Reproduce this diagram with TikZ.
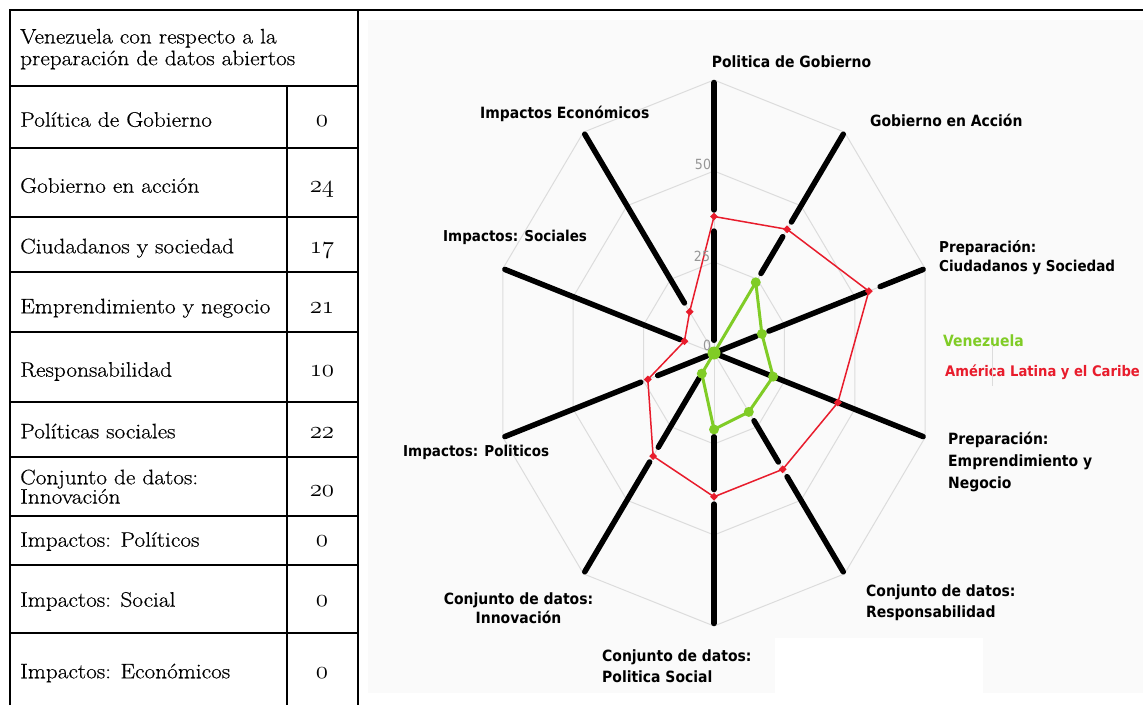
\documentclass[tikz,border=0pt]{standalone}
\usepackage{fontspec}
\newfontfamily\chartfont{DejaVu Sans Condensed}
\newfontfamily\tablefont{Latin Modern Roman}[FakeStretch=1.11, FakeBold=0.5]
\usetikzlibrary{shapes.geometric}
\definecolor{vzgreen}{RGB}{128,204,38}
\definecolor{lacred}{RGB}{232,28,44}
\definecolor{gridgray}{RGB}{220,220,220}
\definecolor{panelbg}{RGB}{250,250,250}
\definecolor{ticktxt}{RGB}{150,150,150}
\newcommand\osn[1]{{\usefont{OML}{lmm}{m}{it}#1}}
\tikzstyle{tline} = [line width=2.8pt]
\tikzstyle{rowtext} = [anchor=base west, inner sep=0pt, font=\tablefont\fontsize{21}{21.7}\selectfont]
\tikzstyle{rowblock} = [anchor=north west, align=left, inner sep=0pt, font=\tablefont\fontsize{21}{21.7}\selectfont]
\tikzstyle{numtext} = [anchor=base, inner sep=0pt, font=\fontsize{25}{25}\selectfont]
\tikzstyle{grid} = [gridgray, line width=1pt]
\tikzstyle{spoke} = [line width=5.5pt, line cap=round]
\tikzstyle{lacline} = [lacred, line width=1.5pt, line join=round]
\tikzstyle{lacdot} = [diamond, aspect=1, fill=lacred, minimum size=8pt, inner sep=0pt]
\tikzstyle{vzline} = [vzgreen, line width=3pt, line join=round]
\tikzstyle{vzdot} = [circle, fill=vzgreen, minimum size=10pt, inner sep=0pt]
\tikzstyle{axislabel} = [anchor=base west, inner sep=0pt, font=\chartfont\bfseries\fontsize{15.5}{21}\selectfont]
\tikzstyle{axisblock} = [anchor=north west, align=left, inner sep=0pt, font=\chartfont\bfseries\fontsize{15.5}{21}\selectfont]
\tikzstyle{ticktext} = [ticktxt, inner sep=0pt, font=\chartfont\fontsize{14}{14}\selectfont]

\begin{document}
\begin{tikzpicture}[x=1pt,y=-1pt]
\useasboundingbox (0,0) rectangle (1143,705);

\fill[panelbg] (368,20) rectangle (1143,693);
\fill[white] (775,638) rectangle (983,693);

\draw[tline] (10,705) -- (10,10) -- (1143,10);
\draw[tline] (358,10) -- (358,705);
\draw[tline] (287,86) -- (287,705);
\foreach \y in {86,148,217,272,332,402,457,516,565,633}
  \draw[tline] (10,\y) -- (358,\y);

\node (title) [rowblock] at (20,28.7) {Venezuela con respecto a la\\preparación de datos abiertos};
\node (r1) [rowtext] at (20,126.7) {Política de Gobierno};
\node (r2) [rowtext] at (20,192.7) {Gobierno en acción};
\node (r3) [rowtext] at (20,253.3) {Ciudadanos y sociedad};
\node (r4) [rowtext] at (20,313.3) {Emprendimiento y negocio};
\node (r5) [rowtext] at (20,376.7) {Responsabilidad};
\node (r6) [rowtext] at (20,438.3) {Políticas sociales};
\node (r7) [rowblock, font=\tablefont\fontsize{21}{19.3}\selectfont] at (20,469.4) {Conjunto de datos:\\Innovación};
\node (r8) [rowtext] at (20,546.7) {Impactos: Políticos};
\node (r9) [rowtext] at (20,606.7) {Impactos: Social};
\node (r10) [rowtext] at (20,678.3) {Impactos: Económicos};

\node (v1) [numtext] at (322,126.7) {\osn{0}};
\node (v2) [numtext] at (322,192.7) {\osn{24}};
\node (v3) [numtext] at (322,253.3) {\osn{17}};
\node (v4) [numtext] at (322,313.3) {\osn{21}};
\node (v5) [numtext] at (322,376.7) {\osn{10}};
\node (v6) [numtext] at (322,438.3) {\osn{22}};
\node (v7) [numtext] at (322,496) {\osn{20}};
\node (v8) [numtext] at (322,546.7) {\osn{0}};
\node (v9) [numtext] at (322,606.7) {\osn{0}};
\node (v10) [numtext] at (322,678.3) {\osn{0}};

\begin{scope}[shift={(714,353)}, x=2.96pt, y=3.64pt]
\coordinate (c) at (0,0);
\foreach \r in {25,50,75}
  \draw[grid] (90:\r) \foreach \a in {54,18,...,-234} {-- (\a:\r)} -- cycle;
\foreach \a in {90,54,...,-234}
  \draw[grid] (c) -- (\a:75);

\foreach \a/\f/\t in {90/74.3/39.3, 90/33.5/3.5, 54/74.3/44.5, 54/39.5/27, 18/74.3/59, 18/54/19.5, 18/15/2,
  -18/74.3/2, -54/74.3/42, -54/37/23, -90/74.3/41.5, -90/37.5/23, -126/74.3/37, -126/32/8.5,
  -162/74.3/26, -162/20/2.5, 162/74.3/12, 126/74.3/17}
  \draw[spoke] (\a:\f) -- (\a:\t);

\coordinate (lac0) at (90:37.5);
\coordinate (lac1) at (54:42);
\coordinate (lac2) at (18:55);
\coordinate (lac3) at (-18:44);
\coordinate (lac4) at (-54:39.5);
\coordinate (lac5) at (-90:39.5);
\coordinate (lac6) at (-126:35);
\coordinate (lac7) at (-162:23.5);
\coordinate (lac8) at (162:10.5);
\coordinate (lac9) at (126:14);

\coordinate (vz1) at (54:24);
\coordinate (vz2) at (18:17);
\coordinate (vz3) at (-18:21);
\coordinate (vz4) at (-54:20);
\coordinate (vz5) at (-90:21);
\coordinate (vz6) at (-126:7);

\draw[lacline] (lac0) -- (lac1) -- (lac2) -- (lac3) -- (lac4) -- (lac5) -- (lac6) -- (lac7) -- (lac8) -- (lac9) -- cycle;
\foreach \i in {0,...,9}
  \node (lacdot\i) [lacdot] at (lac\i) {};

\draw[vzline] (c) -- (vz1) -- (vz2) -- (vz3) -- (vz4) -- (vz5) -- (vz6) -- cycle;
\foreach \i in {1,...,6}
  \node (vzdot\i) [vzdot] at (vz\i) {};
\node (vzdot0) [vzdot, minimum size=13pt] at (c) {};
\end{scope}

\node (tick0) [ticktext] at (707,345) {0};
\node (tick25) [ticktext] at (702,256) {25};
\node (tick50) [ticktext] at (703,164) {50};

\node (gob) [axislabel] at (711.7,67.7) {Politica de Gobierno};
\node (acc) [axislabel] at (870,126.7) {Gobierno en Acción};
\node (ciu) [axisblock, font=\chartfont\bfseries\fontsize{15}{19.4}\selectfont] at (939,240) {Preparación:\\Ciudadanos y Sociedad};
\node (emp) [axisblock, font=\chartfont\bfseries\fontsize{15.5}{22}\selectfont] at (948,432) {Preparación:\\Emprendimiento y\\Negocio};
\node (res) [axisblock] at (866,585) {Conjunto de datos:\\Responsabilidad};
\node (soc) [axisblock] at (602,650) {Conjunto de datos:\\Politica Social};
\node (inn) [axisblock, anchor=north, align=center, font=\chartfont\bfseries\fontsize{15.5}{19}\selectfont] at (518.5,592.5) {Conjunto de datos:\\Innovación};
\node (pol) [axislabel, font=\chartfont\bfseries\fontsize{15}{21}\selectfont] at (403,456) {Impactos: Politicos};
\node (socs) [axislabel, font=\chartfont\bfseries\fontsize{15}{21}\selectfont] at (443,241.7) {Impactos: Sociales};
\node (eco) [axislabel] at (480,118.7) {Impactos Económicos};

\node (ven) [axislabel, text=vzgreen] at (943,346) {Venezuela};
\node (ame) [axislabel, text=lacred, font=\chartfont\bfseries\fontsize{14.6}{21}\selectfont] at (945,376) {América Latina y el Caribe};
\draw[grid] (992,345) -- (992,386);
\end{tikzpicture}
\end{document}
